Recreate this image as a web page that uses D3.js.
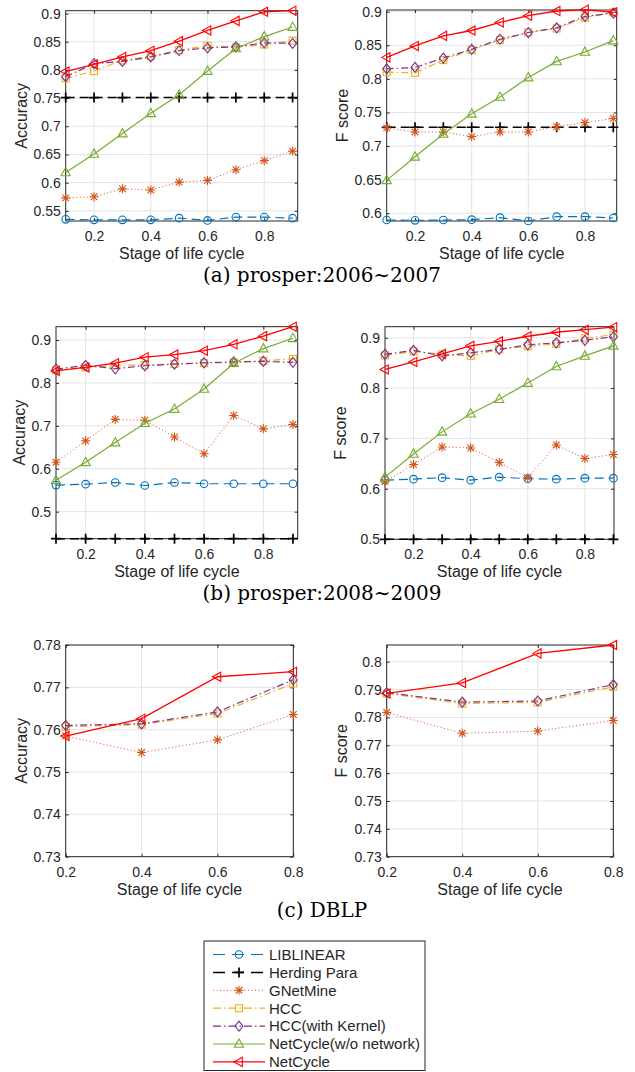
<!DOCTYPE html>
<html>
<head>
<meta charset="utf-8">
<script src="https://cdn.jsdelivr.net/npm/d3@7"></script>
<style>
  body { margin: 0; background: #fff; }
  svg text { font-family: "Liberation Sans", Arial, sans-serif; fill: #262626; }
  .caption { font-family: "DejaVu Serif", "Liberation Serif", serif; fill: #000; }
</style>
</head>
<body>
<svg id="fig" width="635" height="1072"></svg>
<script>
// stages of the life cycle
const stagesProsper = [0.1, 0.2, 0.3, 0.4, 0.5, 0.6, 0.7, 0.8, 0.9];
const stagesDblp = [0.2, 0.4, 0.6, 0.8];

const methods = ['LIBLINEAR', 'Herding Para', 'GNetMine', 'HCC', 'HCC(with Kernel)', 'NetCycle(w/o network)', 'NetCycle'];

// (a) prosper 2006~2007, accuracy
const liblinearAccA = [0.535, 0.534, 0.534, 0.534, 0.537, 0.533, 0.539, 0.539, 0.537];
const herdingAccA = [0.751, 0.751, 0.751, 0.751, 0.751, 0.751, 0.751, 0.751, 0.751];
const gnetmineAccA = [0.573, 0.575, 0.589, 0.587, 0.601, 0.604, 0.623, 0.639, 0.656];
const hccAccA = [0.785, 0.798, 0.817, 0.824, 0.835, 0.843, 0.840, 0.845, 0.852];
const hccKernelAccA = [0.788, 0.811, 0.815, 0.823, 0.834, 0.839, 0.841, 0.848, 0.847];
const netcycleNoNetAccA = [0.618, 0.651, 0.687, 0.723, 0.756, 0.798, 0.838, 0.859, 0.876];
const netcycleAccA = [0.797, 0.810, 0.823, 0.834, 0.851, 0.870, 0.887, 0.903, 0.905];

// (a) prosper 2006~2007, F score
const liblinearFA = [0.590, 0.5895, 0.590, 0.5905, 0.5935, 0.5885, 0.595, 0.595, 0.593];
const herdingFA = [0.728, 0.728, 0.728, 0.728, 0.728, 0.728, 0.728, 0.728, 0.728];
const gnetmineFA = [0.727, 0.721, 0.721, 0.714, 0.721, 0.721, 0.729, 0.735, 0.741];
const hccFA = [0.810, 0.809, 0.828, 0.843, 0.858, 0.869, 0.875, 0.891, 0.899];
const hccKernelFA = [0.815, 0.817, 0.831, 0.844, 0.859, 0.869, 0.876, 0.893, 0.898];
const netcycleNoNetFA = [0.649, 0.684, 0.718, 0.748, 0.773, 0.802, 0.826, 0.840, 0.857];
const netcycleFA = [0.832, 0.849, 0.864, 0.872, 0.884, 0.894, 0.901, 0.903, 0.899];

// (b) prosper 2008~2009, accuracy
const liblinearAccB = [0.562, 0.564, 0.568, 0.561, 0.568, 0.565, 0.565, 0.565, 0.565];
const herdingAccB = [0.437, 0.437, 0.437, 0.437, 0.437, 0.437, 0.437, 0.437, 0.437];
const gnetmineAccB = [0.615, 0.665, 0.715, 0.713, 0.674, 0.635, 0.724, 0.693, 0.703];
const hccAccB = [0.830, 0.836, 0.841, 0.842, 0.844, 0.846, 0.848, 0.852, 0.856];
const hccKernelAccB = [0.832, 0.841, 0.833, 0.840, 0.844, 0.847, 0.849, 0.850, 0.848];
const netcycleNoNetAccB = [0.573, 0.615, 0.661, 0.706, 0.739, 0.786, 0.846, 0.880, 0.904];
const netcycleAccB = [0.828, 0.836, 0.846, 0.860, 0.866, 0.875, 0.890, 0.909, 0.931];

// (b) prosper 2008~2009, F score
const liblinearFB = [0.617, 0.619, 0.622, 0.617, 0.623, 0.620, 0.619, 0.621, 0.621];
const herdingFB = [0.4995, 0.4995, 0.4995, 0.4995, 0.4995, 0.4995, 0.4995, 0.4995, 0.4995];
const gnetmineFB = [0.614, 0.648, 0.683, 0.681, 0.652, 0.622, 0.687, 0.660, 0.668];
const hccFB = [0.865, 0.873, 0.867, 0.864, 0.877, 0.883, 0.888, 0.899, 0.906];
const hccKernelFB = [0.867, 0.875, 0.864, 0.870, 0.877, 0.886, 0.890, 0.895, 0.902];
const netcycleNoNetFB = [0.623, 0.669, 0.713, 0.749, 0.778, 0.810, 0.843, 0.864, 0.884];
const netcycleFB = [0.837, 0.852, 0.868, 0.884, 0.893, 0.903, 0.911, 0.916, 0.921];

// (c) DBLP, accuracy
const gnetmineAccC = [0.7585, 0.7546, 0.7576, 0.7636];
const hccAccC = [0.7607, 0.7612, 0.7638, 0.7709];
const hccKernelAccC = [0.7610, 0.7614, 0.7642, 0.7718];
const netcycleAccC = [0.7585, 0.7626, 0.7725, 0.7737];

// (c) DBLP, F score
const gnetmineFC = [0.7818, 0.7743, 0.7751, 0.7789];
const hccFC = [0.7886, 0.7850, 0.7854, 0.7910];
const hccKernelFC = [0.7889, 0.7855, 0.7859, 0.7918];
const netcycleFC = [0.7886, 0.7924, 0.8030, 0.8060];

const colors = ['#0072BD', '#000000', '#D95319', '#EDB120', '#7E2F8E', '#77AC30', '#FF0000'];
const dashes = ['9,5', '9,5', '1,2.5', '7,3,1.5,3', '7,3,1.5,3', null, null];
const legendDashes = ['12,7', '12,7', '1,2.5', '8,3,1.5,3', '8,3,1.5,3', null, null];
const widths = [1.2, 1.5, 1, 1.2, 1.2, 1.2, 1.3];
const markers = ['circle', 'plus', 'asterisk', 'square', 'diamond', 'triangleUp', 'triangleLeft'];

const panels = [
  { box: [65.7, 297.7, 10.7, 221], xDomain: [0.1, 0.918], yDomain: [0.532, 0.905],
    yTicks: [0.55, 0.6, 0.65, 0.7, 0.75, 0.8, 0.85, 0.9], ylabel: 'Accuracy', ylabelX: 27,
    stages: stagesProsper,
    series: [liblinearAccA, herdingAccA, gnetmineAccA, hccAccA, hccKernelAccA, netcycleNoNetAccA, netcycleAccA] },
  { box: [386.7, 616.7, 10, 221], xDomain: [0.1, 0.912], yDomain: [0.5885, 0.9025],
    yTicks: [0.6, 0.65, 0.7, 0.75, 0.8, 0.85, 0.9], ylabel: 'F score', ylabelX: 348,
    stages: stagesProsper,
    series: [liblinearFA, herdingFA, gnetmineFA, hccFA, hccKernelFA, netcycleNoNetFA, netcycleFA] },
  { box: [56, 297.7, 326.7, 538.7], xDomain: [0.1, 0.916], yDomain: [0.437, 0.931],
    yTicks: [0.5, 0.6, 0.7, 0.8, 0.9], ylabel: 'Accuracy', ylabelX: 25,
    stages: stagesProsper,
    series: [liblinearAccB, herdingAccB, gnetmineAccB, hccAccB, hccKernelAccB, netcycleNoNetAccB, netcycleAccB] },
  { box: [385, 614, 326.7, 539.3], xDomain: [0.1, 0.902], yDomain: [0.4995, 0.922],
    yTicks: [0.5, 0.6, 0.7, 0.8, 0.9], ylabel: 'F score', ylabelX: 346,
    stages: stagesProsper,
    series: [liblinearFB, herdingFB, gnetmineFB, hccFB, hccKernelFB, netcycleNoNetFB, netcycleFB] },
  { box: [65.7, 293.3, 645, 856.7], xDomain: [0.2, 0.8], yDomain: [0.73, 0.78],
    yTicks: [0.73, 0.74, 0.75, 0.76, 0.77, 0.78], ylabel: 'Accuracy', ylabelX: 27,
    stages: stagesDblp,
    series: [null, null, gnetmineAccC, hccAccC, hccKernelAccC, null, netcycleAccC] },
  { box: [386.7, 613.3, 645, 856.7], xDomain: [0.2, 0.8], yDomain: [0.73, 0.806],
    yTicks: [0.73, 0.74, 0.75, 0.76, 0.77, 0.78, 0.79, 0.8], ylabel: 'F score', ylabelX: 347,
    stages: stagesDblp,
    series: [null, null, gnetmineFC, hccFC, hccKernelFC, null, netcycleFC] }
];

const captions = [
  { text: '(a) prosper:2006\u223C2007', y: 282 },
  { text: '(b) prosper:2008\u223C2009', y: 600 },
  { text: '(c) DBLP', y: 917 }
];

const svg = d3.select('#fig');
const fmt = function(v) { return String(+v.toFixed(3)); };

function drawMarker(g, type, x, y, color) {
  let m;
  if (type === 'circle') {
    m = g.append('circle').attr('cx', x).attr('cy', y).attr('r', 3.8);
  } else if (type === 'plus') {
    m = g.append('path').attr('d', 'M-5,0H5M0,-5V5');
  } else if (type === 'asterisk') {
    m = g.append('path').attr('d', 'M-4.5,0H4.5M0,-4.5V4.5M-3.3,-3.3L3.3,3.3M-3.3,3.3L3.3,-3.3');
  } else if (type === 'square') {
    m = g.append('rect').attr('x', x - 3.5).attr('y', y - 3.5).attr('width', 7).attr('height', 7);
  } else if (type === 'diamond') {
    m = g.append('path').attr('d', 'M0,-5L4,0L0,5L-4,0Z');
  } else if (type === 'triangleUp') {
    m = g.append('path').attr('d', 'M0,-5L4.6,3.3L-4.6,3.3Z');
  } else {
    m = g.append('path').attr('d', 'M-5,0L3.3,-4.6L3.3,4.6Z');
  }
  if (type !== 'circle' && type !== 'square') m.attr('transform', 'translate(' + x + ',' + y + ')');
  m.attr('fill', 'none').attr('stroke', color).attr('stroke-width', type === 'plus' ? 1.7 : 1.1);
}

panels.forEach(function(p) {
  const [left, right, top, bottom] = p.box;
  const x = d3.scaleLinear().domain(p.xDomain).range([left, right]);
  const y = d3.scaleLinear().domain(p.yDomain).range([bottom, top]);
  const g = svg.append('g');
  const xTicks = [0.2, 0.4, 0.6, 0.8];

  // grid
  g.append('g').selectAll('line').data(xTicks).enter().append('line')
    .attr('x1', d => x(d)).attr('x2', d => x(d)).attr('y1', top).attr('y2', bottom)
    .attr('stroke', '#e3e3e3').attr('stroke-width', 1);
  g.append('g').selectAll('line').data(p.yTicks).enter().append('line')
    .attr('x1', left).attr('x2', right).attr('y1', d => y(d)).attr('y2', d => y(d))
    .attr('stroke', '#e3e3e3').attr('stroke-width', 1);

  // axes, ticks pointing inward on all four sides
  const axB = g.append('g').attr('transform', 'translate(0,' + bottom + ')')
    .call(d3.axisBottom(x).tickValues(xTicks).tickSizeInner(-3).tickSizeOuter(0).tickPadding(10).tickFormat(fmt));
  const axT = g.append('g').attr('transform', 'translate(0,' + top + ')')
    .call(d3.axisTop(x).tickValues(xTicks).tickSizeInner(-3).tickSizeOuter(0).tickFormat(''));
  const axL = g.append('g').attr('transform', 'translate(' + left + ',0)')
    .call(d3.axisLeft(y).tickValues(p.yTicks).tickSizeInner(-3).tickSizeOuter(0).tickPadding(5).tickFormat(fmt));
  const axR = g.append('g').attr('transform', 'translate(' + right + ',0)')
    .call(d3.axisRight(y).tickValues(p.yTicks).tickSizeInner(-3).tickSizeOuter(0).tickFormat(''));
  [axB, axT, axL, axR].forEach(function(a) {
    a.select('.domain').remove();
    a.selectAll('line').attr('stroke', '#262626');
    a.selectAll('text').attr('font-size', 14).attr('fill', '#262626')
      .attr('font-family', '"Liberation Sans", Arial, sans-serif');
  });
  g.append('rect').attr('x', left).attr('y', top).attr('width', right - left).attr('height', bottom - top)
    .attr('fill', 'none').attr('stroke', '#262626').attr('stroke-width', 1);

  // labels
  g.append('text').attr('x', (left + right) / 2).attr('y', bottom + 38)
    .attr('text-anchor', 'middle').attr('font-size', 16).text('Stage of life cycle');
  g.append('text').attr('transform', 'translate(' + p.ylabelX + ',' + ((top + bottom) / 2) + ') rotate(-90)')
    .attr('text-anchor', 'middle').attr('font-size', 16).text(p.ylabel);

  // series
  const line = d3.line().x(d => x(d[0])).y(d => y(d[1]));
  p.series.forEach(function(vals, i) {
    if (!vals) return;
    const pts = p.stages.map((s, k) => [s, vals[k]]);
    g.append('path').datum(pts).attr('d', line).attr('fill', 'none')
      .attr('stroke', colors[i]).attr('stroke-width', widths[i])
      .attr('stroke-dasharray', dashes[i]);
    const mg = g.append('g');
    pts.forEach(d => drawMarker(mg, markers[i], x(d[0]), y(d[1]), colors[i]));
  });
});

captions.forEach(function(c) {
  svg.append('text').attr('class', 'caption').attr('x', 322).attr('y', c.y)
    .attr('text-anchor', 'middle').attr('font-size', 20).text(c.text);
});

// legend
const legend = svg.append('g');
legend.append('rect').attr('x', 204).attr('y', 941).attr('width', 221).attr('height', 129.5)
  .attr('fill', '#fff').attr('stroke', '#262626').attr('stroke-width', 1);
methods.forEach(function(name, i) {
  const ly = 954.5 + i * 17.9;
  legend.append('line').attr('x1', 213).attr('x2', 265).attr('y1', ly).attr('y2', ly)
    .attr('stroke', colors[i]).attr('stroke-width', widths[i])
    .attr('stroke-dasharray', legendDashes[i]);
  drawMarker(legend, markers[i], 239, ly, colors[i]);
  legend.append('text').attr('x', 269).attr('y', ly + 5.3).attr('font-size', 15).text(name);
});
</script>
</body>
</html>
